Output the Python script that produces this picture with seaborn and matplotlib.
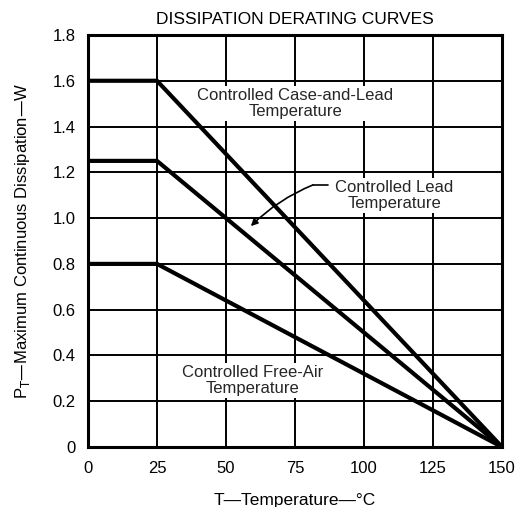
import matplotlib
matplotlib.use("Agg")
import matplotlib.pyplot as plt
import pandas as pd
import seaborn as sns

# Data
temperature = [0, 25, 150]
case_and_lead = [1.6, 1.6, 0.0]
lead = [1.25, 1.25, 0.0]
free_air = [0.8, 0.8, 0.0]
curve_names = ["Controlled Case-and-Lead Temperature",
               "Controlled Lead Temperature",
               "Controlled Free-Air Temperature"]
x_ticks = [0, 25, 50, 75, 100, 125, 150]
y_ticks = [0, 0.2, 0.4, 0.6, 0.8, 1.0, 1.2, 1.4, 1.6, 1.8]
y_tick_labels = ["0", "0.2", "0.4", "0.6", "0.8", "1.0", "1.2", "1.4", "1.6", "1.8"]

df = pd.DataFrame({
    "T": temperature * 3,
    "P": case_and_lead + lead + free_air,
    "curve": [n for n in curve_names for _ in temperature],
})

sns.set_theme(style="white")
plt.rcParams["font.family"] = ["Liberation Sans", "DejaVu Sans"]

fig = plt.figure(figsize=(5.16, 5.07), dpi=100)
ax = fig.add_axes([0.1705, 0.1183, 0.8025, 0.8127])

sns.lineplot(data=df, x="T", y="P", units="curve", estimator=None,
             color="black", linewidth=3.0, ax=ax, legend=False, zorder=5,
             solid_capstyle="butt")

ax.set_xlim(0, 150)
ax.set_ylim(0, 1.8)
ax.set_xticks(x_ticks)
ax.set_yticks(y_ticks)
ax.set_yticklabels(y_tick_labels)
ax.grid(True, color="black", linewidth=1.4)
ax.set_axisbelow(True)
for s in ax.spines.values():
    s.set_color("black")
    s.set_linewidth(2.2)
ax.tick_params(axis="both", length=0, labelsize=12, colors="black")
ax.tick_params(axis="x", pad=10)
ax.tick_params(axis="y", pad=9)

ax.set_xlabel("T\u2014Temperature\u2014\u00b0C", fontsize=12.5, color="black")
ax.xaxis.set_label_coords(0.5, -0.129)
ax.xaxis.label.set_va("center")
ax.set_ylabel("P$_\\mathrm{T}$\u2014Maximum Continuous Dissipation\u2014W",
              fontsize=12, color="black")
ax.yaxis.set_label_coords(-0.158, 0.5)
ax.yaxis.label.set_va("center")
ax.set_title("DISSIPATION DERATING CURVES", fontsize=12.5, pad=8, color="black")

box = dict(facecolor="white", edgecolor="none", pad=1.5)
ax.text(75, 1.50, "Controlled Case-and-Lead\nTemperature", ha="center", va="center",
        fontsize=12, linespacing=1.05, bbox=box, zorder=4)
ax.text(111, 1.10, "Controlled Lead\nTemperature", ha="center", va="center",
        fontsize=12, linespacing=1.05, bbox=box, zorder=4)
ax.text(59.5, 0.29, "Controlled Free-Air\nTemperature", ha="center", va="center",
        fontsize=12, linespacing=1.05, bbox=box, zorder=4)

# leader arrow from the "Lead" label to its curve
ax.plot([81.5, 87.0], [1.145, 1.145], color="black", linewidth=1.2, zorder=6)
ax.annotate("", xy=(59, 0.965), xytext=(81.5, 1.145),
            arrowprops=dict(arrowstyle="-|>", color="black", linewidth=1.2,
                            mutation_scale=10, shrinkA=0, shrinkB=0,
                            connectionstyle="arc3,rad=0.1"), zorder=6)

fig.savefig("out.png", dpi=100)
